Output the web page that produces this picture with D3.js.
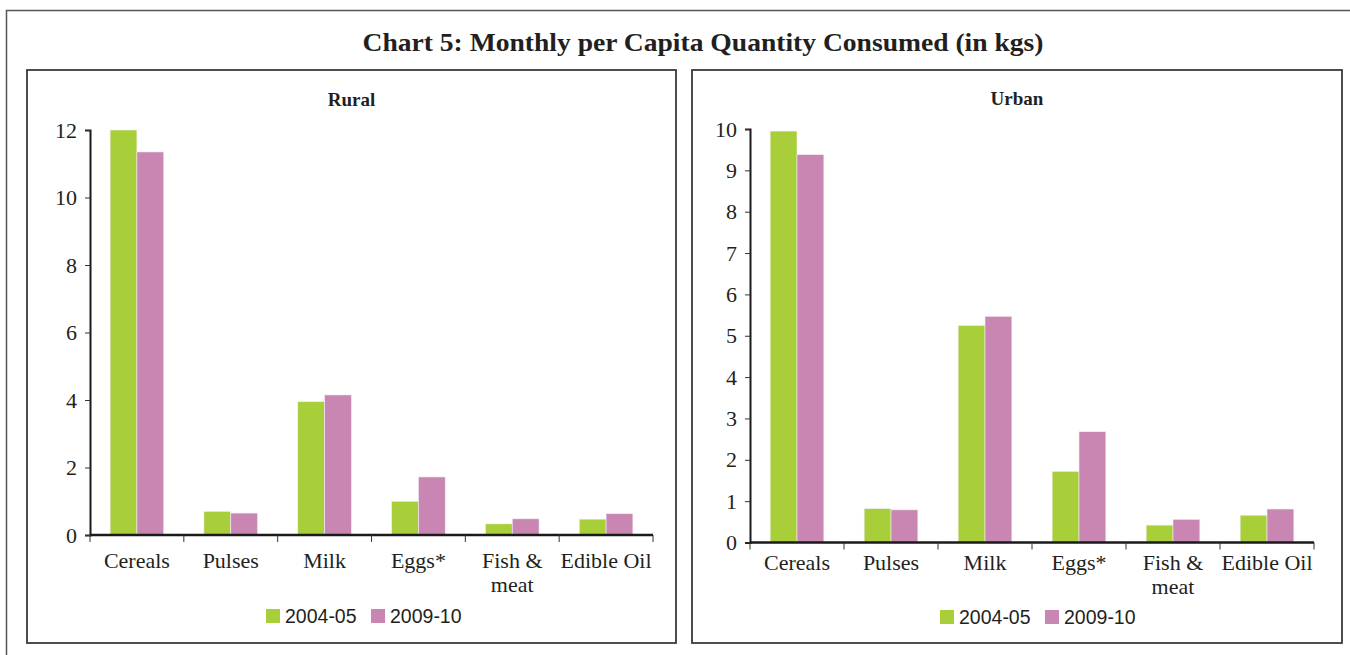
<!DOCTYPE html>
<html>
<head>
<meta charset="utf-8">
<script src="https://cdn.jsdelivr.net/npm/d3@7"></script>
<style>
  body { margin: 0; background: #fff; }
  svg text { fill: #231f20; }
</style>
</head>
<body>
<div id="chart"></div>
<script>
var svgWidth = 1350;
var svgHeight = 655;

// data (kgs per month)
var categories = ["Cereals", "Pulses", "Milk", "Eggs*", "Fish & meat", "Edible Oil"];
var seriesNames = ["2004-05", "2009-10"];
var rural2004 = [12.0, 0.70, 3.95, 1.00, 0.33, 0.47];
var rural2009 = [11.35, 0.65, 4.15, 1.72, 0.48, 0.63];
var urban2004 = [9.95, 0.82, 5.25, 1.72, 0.42, 0.66];
var urban2009 = [9.38, 0.79, 5.47, 2.68, 0.56, 0.81];
var ruralTicks = [0, 2, 4, 6, 8, 10, 12];
var urbanTicks = [0, 1, 2, 3, 4, 5, 6, 7, 8, 9, 10];

var colors = ["#a8ce3a", "#c986b2"];
var serif = "'Liberation Serif', 'DejaVu Serif', serif";
var sans = "'Liberation Sans', Arial, sans-serif";

var svg = d3.select("#chart")
  .append("svg")
  .attr("width", svgWidth)
  .attr("height", svgHeight);

// outer frame (runs off the right and bottom of the picture)
svg.append("rect")
  .attr("x", 6.5).attr("y", 10.5)
  .attr("width", 1400).attr("height", 700)
  .attr("fill", "none")
  .attr("stroke", "#555")
  .attr("stroke-width", 1.5);

svg.append("text")
  .attr("x", 703)
  .attr("y", 51)
  .attr("text-anchor", "middle")
  .attr("font-family", serif)
  .attr("font-weight", "bold")
  .attr("font-size", 26)
  .attr("textLength", 681)
  .attr("lengthAdjust", "spacingAndGlyphs")
  .text("Chart 5: Monthly per Capita Quantity Consumed (in kgs)");

function drawPanel(p) {
  // panel box
  svg.append("rect")
    .attr("x", p.box[0]).attr("y", p.box[1])
    .attr("width", p.box[2]).attr("height", p.box[3])
    .attr("fill", "none")
    .attr("stroke", "#3a3a3a")
    .attr("stroke-width", 1.8);

  svg.append("text")
    .attr("x", p.box[0] + p.box[2] / 2)
    .attr("y", p.titleY)
    .attr("text-anchor", "middle")
    .attr("font-family", serif)
    .attr("font-weight", "bold")
    .attr("font-size", 19)
    .text(p.title);

  var xScale = d3.scaleBand()
    .domain(categories)
    .range([p.left, p.right]);

  var xSub = d3.scaleBand()
    .domain(seriesNames)
    .range([0, xScale.bandwidth()])
    .paddingOuter(0.75);

  var yScale = d3.scaleLinear()
    .domain([0, d3.max(p.ticks)])
    .range([p.zeroY, p.topY]);

  var g = svg.append("g");

  // bars
  p.values.forEach(function(vals, si) {
    g.selectAll(".bar" + si)
      .data(vals)
      .enter()
      .append("rect")
      .attr("x", (d, i) => xScale(categories[i]) + xSub(seriesNames[si]))
      .attr("y", d => yScale(d))
      .attr("width", xSub.bandwidth())
      .attr("height", d => yScale(0) - yScale(d))
      .attr("fill", colors[si])
      .attr("stroke", "#f4eef2")
      .attr("stroke-width", 0.6);
  });

  // y axis
  var leftAxis = d3.axisLeft(yScale)
    .tickValues(p.ticks)
    .tickSize(5)
    .tickPadding(8)
    .tickFormat(d3.format("d"));

  var yAxis = g.append("g")
    .attr("transform", `translate(${p.left}, 0)`)
    .call(leftAxis);
  yAxis.select(".domain").attr("stroke", "#1a1a1a").attr("stroke-width", 2);
  yAxis.selectAll(".tick line").attr("stroke", "#333").attr("stroke-width", 1);
  yAxis.selectAll(".tick text")
    .attr("font-family", serif)
    .attr("font-size", 22)
    .attr("fill", "#231f20");

  // x axis: baseline and ticks on the band boundaries
  g.append("line")
    .attr("x1", p.left).attr("x2", p.right)
    .attr("y1", yScale(0)).attr("y2", yScale(0))
    .attr("stroke", "#1a1a1a")
    .attr("stroke-width", 2.5);

  var bounds = categories.map(c => xScale(c)).concat([p.right]);
  g.selectAll(".xtick")
    .data(bounds)
    .enter()
    .append("line")
    .attr("x1", d => d).attr("x2", d => d)
    .attr("y1", yScale(0)).attr("y2", yScale(0) + 7)
    .attr("stroke", "#333")
    .attr("stroke-width", 1);

  // category labels (Fish & meat wraps to two lines)
  var labels = g.selectAll(".xlabel")
    .data(categories)
    .enter()
    .append("text")
    .attr("text-anchor", "middle")
    .attr("font-family", serif)
    .attr("font-size", 22)
    .attr("y", p.labelY);

  labels.each(function(d) {
    var lines = d.indexOf("&") > 0 ? [d.slice(0, d.indexOf("&") + 1), d.slice(d.indexOf("&") + 2)] : [d];
    var t = d3.select(this);
    var cx = xScale(d) + xScale.bandwidth() / 2;
    lines.forEach(function(line, li) {
      t.append("tspan")
        .attr("x", cx)
        .attr("dy", li === 0 ? 0 : 23.5)
        .text(line);
    });
  });

  // legend
  var legend = g.append("g")
    .attr("transform", `translate(${p.legendX}, ${p.legendY})`);

  seriesNames.forEach(function(name, si) {
    var lx = si * 105;
    legend.append("rect")
      .attr("x", lx).attr("y", -14)
      .attr("width", 14).attr("height", 14)
      .attr("fill", colors[si]);
    legend.append("text")
      .attr("x", lx + 19)
      .attr("y", 0)
      .attr("font-family", sans)
      .attr("font-size", 19.5)
      .text(name);
  });
}

drawPanel({
  title: "Rural",
  box: [27, 70, 649, 573],
  titleY: 106,
  left: 90, right: 653,
  zeroY: 535, topY: 130,
  ticks: ruralTicks,
  values: [rural2004, rural2009],
  labelY: 568,
  legendX: 266, legendY: 623
});

drawPanel({
  title: "Urban",
  box: [692, 70, 650, 573],
  titleY: 105,
  left: 750, right: 1314,
  zeroY: 542.5, topY: 129,
  ticks: urbanTicks,
  values: [urban2004, urban2009],
  labelY: 570,
  legendX: 940, legendY: 624
});
</script>
</body>
</html>
